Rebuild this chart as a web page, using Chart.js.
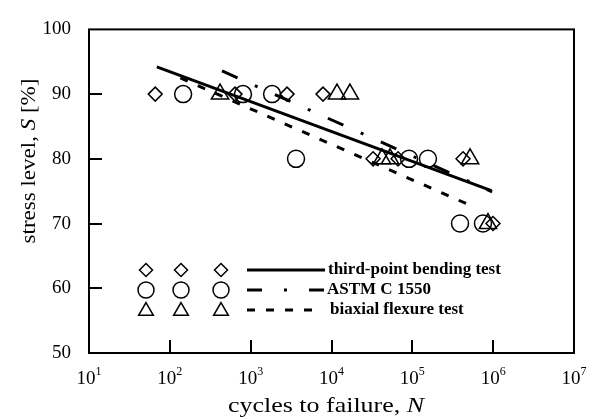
<!DOCTYPE html>
<html><head><meta charset="utf-8">
<script src="https://cdn.jsdelivr.net/npm/chart.js@4.4.1/dist/chart.umd.min.js"></script>
<style>html,body{margin:0;padding:0;background:#fff;}canvas{display:block;}</style>
</head><body>
<canvas id="c" width="596" height="418"></canvas>
<script>
// ---- data ----
const bendN = [66, 640, 2820, 7850, 32700, 66600, 424000, 995000];
const bendS = [90, 90, 90, 90, 80, 80, 80, 70];
const astmN = [146, 803, 1840, 3640, 91000, 156000, 389000, 748000];
const astmS = [90, 90, 90, 80, 80, 80, 70, 70];
const biaxN = [418, 11700, 16900, 42200, 53000, 518000, 863000];
const biaxS = [90, 90, 90, 80, 80, 80, 70];
// fitted lines (end points)
const bendFitN = [69, 950000];
const bendFitS = [94.2, 75.1];
const astmFitN = [442, 970000];
const astmFitS = [93.6, 74.9];
const biaxFitN = [135, 570000];
const biaxFitS = [92.5, 72.6];
// ticks and labels
const yTicks = [50, 60, 70, 80, 90, 100];
const xTickExps = [1, 2, 3, 4, 5, 6, 7];
const legendLabels = ['third-point bending test', 'ASTM C 1550', 'biaxial flexure test'];
const xTitleParts = ['cycles to failure, ', 'N'];
const yTitleParts = ['stress level, ', 'S', ' [%]'];

const FONT = '"Liberation Serif", "Times New Roman", serif';
const pts = (n, s) => n.map((v, i) => ({ x: v, y: s[i] }));
const markerStyle = ['rectRot', 'circle', 'triangle'];
const markerRadius = [7, 8.5, 10];
const dashes = [[], [17, 19, 3, 19], [8, 11]];
const legendDashes = [[], [15, 22, 3, 22], [8, 11]];

function markerSet(n, s, i) {
  return {
    data: pts(n, s), showLine: false,
    pointStyle: markerStyle[i], pointRadius: markerRadius[i], pointHoverRadius: markerRadius[i],
    pointBorderWidth: 1.5, pointBorderColor: '#000', pointBackgroundColor: 'rgba(0,0,0,0)'
  };
}
function lineSet(n, s, i) {
  return {
    data: pts(n, s), showLine: true, borderColor: '#000', borderWidth: 3,
    borderDash: dashes[i], borderCapStyle: 'butt', pointRadius: 0, pointHoverRadius: 0, fill: false
  };
}

function drawRich(ctx, parts, fonts, sx) {
  // draws centred at (0,0) of the current transform, baseline alphabetic
  let widths = parts.map((p, i) => { ctx.font = fonts[i]; return ctx.measureText(p).width; });
  const total = widths.reduce((a, b) => a + b, 0);
  ctx.save();
  ctx.scale(sx, 1);
  let cx = -total / 2;
  parts.forEach((p, i) => { ctx.font = fonts[i]; ctx.fillText(p, cx, 0); cx += widths[i]; });
  ctx.restore();
}

function drawMarker(ctx, style, r, x, y) {
  if (Chart.helpers && Chart.helpers.drawPoint) {
    Chart.helpers.drawPoint(ctx, { pointStyle: style, radius: r, rotation: 0, borderWidth: 1.5 }, x, y);
    return;
  }
  ctx.beginPath();
  if (style === 'circle') ctx.arc(x, y, r, 0, Math.PI * 2);
  else if (style === 'rectRot') { ctx.moveTo(x, y - r); ctx.lineTo(x + r, y); ctx.lineTo(x, y + r); ctx.lineTo(x - r, y); ctx.closePath(); }
  else { ctx.moveTo(x, y - r); ctx.lineTo(x + r * 0.866, y + r / 2); ctx.lineTo(x - r * 0.866, y + r / 2); ctx.closePath(); }
  ctx.stroke();
}

const decor = {
  id: 'decor',
  beforeDatasetsDraw(chart) {
    const { ctx, chartArea: a, scales: { x, y } } = chart;
    ctx.save();
    ctx.strokeStyle = '#000';
    ctx.lineWidth = 2;
    ctx.strokeRect(a.left, a.top, a.right - a.left, a.bottom - a.top);
    ctx.beginPath();
    yTicks.forEach(v => {
      if (v > y.min && v < y.max) { const py = Math.round(y.getPixelForValue(v)); ctx.moveTo(a.left, py); ctx.lineTo(a.left + 13, py); }
    });
    xTickExps.forEach(e => {
      const v = Math.pow(10, e);
      if (v > x.min && v < x.max) { const px = Math.round(x.getPixelForValue(v)); ctx.moveTo(px, a.bottom); ctx.lineTo(px, a.bottom - 13); }
    });
    ctx.stroke();
    ctx.restore();
  },
  afterDraw(chart) {
    const { ctx, chartArea: a, scales: { x } } = chart;
    ctx.save();
    ctx.fillStyle = '#000';
    ctx.textBaseline = 'alphabetic';
    ctx.textAlign = 'left';
    // x tick labels 10^n
    xTickExps.forEach(e => {
      const px = x.getPixelForValue(Math.pow(10, e));
      ctx.font = '19px ' + FONT; const w1 = ctx.measureText('10').width;
      ctx.font = '12px ' + FONT; const w2 = ctx.measureText(String(e)).width;
      const sx = px - (w1 + w2) / 2;
      ctx.font = '19px ' + FONT; ctx.fillText('10', sx, 384);
      ctx.font = '12px ' + FONT; ctx.fillText(String(e), sx + w1, 375);
    });
    // x title
    ctx.save();
    ctx.translate(326, 412);
    drawRich(ctx, xTitleParts, ['22px ' + FONT, 'italic 22px ' + FONT], 1.18);
    ctx.restore();
    // y title
    ctx.save();
    ctx.translate(35, 161);
    ctx.rotate(-Math.PI / 2);
    drawRich(ctx, yTitleParts, ['20px ' + FONT, 'italic 20px ' + FONT, '20px ' + FONT], 1.15);
    ctx.restore();
    // legend
    const rows = [270, 290, 310];
    const cols = [146, 181, 221];
    const legR = [6.5, 8, 8.5];
    const lineEnd = [325, 327, 313];
    const textX = [328, 327, 330];
    ctx.strokeStyle = '#000';
    for (let i = 0; i < 3; i++) {
      ctx.lineWidth = 1.5; ctx.setLineDash([]);
      ctx.fillStyle = 'rgba(0,0,0,0)';
      cols.forEach(cx => drawMarker(ctx, markerStyle[i], legR[i], cx, rows[i] + (i === 2 ? 1 : 0)));
      ctx.beginPath();
      ctx.lineWidth = 3; ctx.lineCap = 'butt'; ctx.setLineDash(legendDashes[i]);
      ctx.moveTo(247, rows[i]); ctx.lineTo(lineEnd[i], rows[i]); ctx.stroke();
      ctx.setLineDash([]);
      ctx.fillStyle = '#000';
      ctx.font = 'bold 17px ' + FONT;
      ctx.textBaseline = 'middle';
      ctx.fillText(legendLabels[i], textX[i], rows[i]);
      ctx.textBaseline = 'alphabetic';
    }
    ctx.restore();
  }
};

new Chart(document.getElementById('c'), {
  type: 'scatter',
  data: {
    datasets: [
      lineSet(bendFitN, bendFitS, 0),
      lineSet(astmFitN, astmFitS, 1),
      lineSet(biaxFitN, biaxFitS, 2),
      markerSet(bendN, bendS, 0),
      markerSet(astmN, astmS, 1),
      markerSet(biaxN, biaxS, 2)
    ]
  },
  options: {
    responsive: false, animation: false, devicePixelRatio: 1,
    layout: { padding: { top: 15, right: 22, left: 0, bottom: 0 } },
    plugins: { legend: { display: false }, tooltip: { enabled: false } },
    scales: {
      x: {
        type: 'logarithmic', min: 10, max: 1e7,
        grid: { display: false, drawTicks: false },
        border: { display: false },
        ticks: { display: false },
        afterFit: s => { s.height = 65; }
      },
      y: {
        type: 'linear', min: 50, max: 100,
        grid: { display: false, drawTicks: false },
        border: { display: false },
        ticks: { stepSize: 10, color: '#000', padding: 18, font: { family: FONT, size: 19 } },
        afterFit: s => { s.width = 89; }
      }
    }
  },
  plugins: [decor]
});
</script>
</body></html>
